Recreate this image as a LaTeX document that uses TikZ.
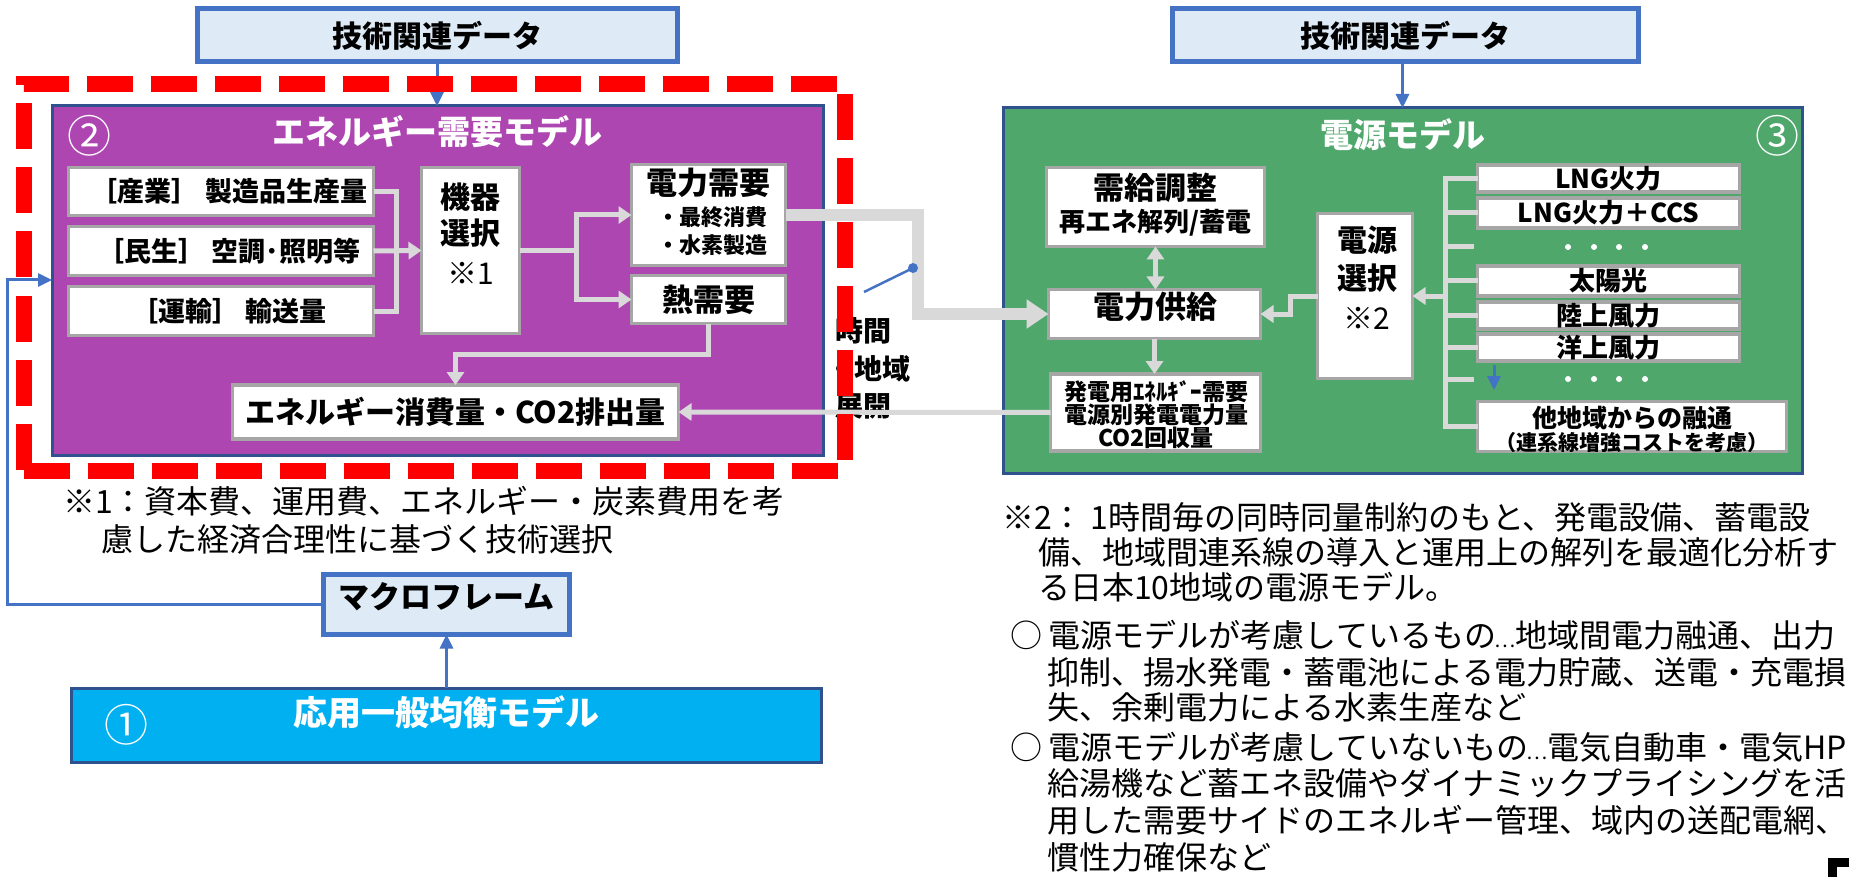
\documentclass[tikz,border=0pt]{standalone}
\usepackage{fontspec}
\setmainfont{Noto Sans CJK JP}
\usetikzlibrary{arrows.meta}
\definecolor{purp}{RGB}{174,70,178}
\definecolor{grn}{RGB}{79,167,108}
\definecolor{cyn}{RGB}{0,176,240}
\definecolor{lblue}{RGB}{222,235,247}
\definecolor{mblue}{RGB}{68,114,196}
\definecolor{dblue}{RGB}{47,82,143}
\definecolor{bgray}{RGB}{166,166,166}
\definecolor{cgray}{RGB}{217,217,217}
\newcommand{\fsz}[1]{\fontsize{#1}{#1}\selectfont}
\newcommand{\myell}{\makebox[19pt]{\fsz{20}…}}
\begin{document}
\begin{tikzpicture}[x=1pt,y=-1pt,
  wbox/.style={draw=bgray, line width=3.5pt, fill=white, inner sep=0pt, outer sep=0pt},
  tbox/.style={draw=mblue, line width=5pt, fill=lblue, inner sep=0pt, outer sep=0pt},
  bigbox/.style={draw=dblue, line width=3pt, inner sep=0pt, outer sep=0pt},
  txt/.style={inner sep=0pt, outer sep=0pt},
  bt/.style={txt, font=\fsz{#1}\bfseries},
  gline/.style={draw=cgray, line width=5pt},
  garrow/.style={gline, -{Triangle[length=13pt,width=17pt]}},
  barrow/.style={draw=mblue, line width=3pt, -{Triangle[length=14pt,width=13pt]}},
  note/.style={txt, anchor=west, font=\fsz{32}},
  circnum/.style={txt, text=white, font=\fsz{44}},
]
\useasboundingbox (0,0) rectangle (1849,877);

% big model boxes
\node[bigbox, fill=purp, minimum width=771pt, minimum height=349pt] (edm) at (437.5,280.5) {};
\node[bt=33, text=white] (edmt) at (437.5,132) {エネルギー需要モデル};
\node[circnum] (n2) at (89,136) {②};

\node[bigbox, fill=grn, minimum width=799pt, minimum height=365pt] (psm) at (1402.5,290.5) {};
\node[bt=33, text=white] (psmt) at (1403,135) {電源モデル};
\node[circnum] (n3) at (1777,136) {③};

% technology data boxes
\node[tbox, minimum width=480pt, minimum height=53pt, font=\fsz{30}\bfseries] (tech1) at (437,35.5) {技術関連データ};
\node[tbox, minimum width=466pt, minimum height=53pt, font=\fsz{30}\bfseries] (tech2) at (1405,35.5) {技術関連データ};

% energy demand model contents
\node[wbox, minimum width=305pt, minimum height=48pt, font=\fsz{27}\bfseries] (ind) at (221,191.5) {\hspace*{16pt}［産業］ 製造品生産量};
\node[wbox, minimum width=305pt, minimum height=49pt, font=\fsz{27}\bfseries] (civ) at (221,251) {\hspace*{16pt}［民生］ 空調･照明等};
\node[wbox, minimum width=305pt, minimum height=49pt, font=\fsz{27}\bfseries] (tra) at (221,311) {\hspace*{16pt}［運輸］ 輸送量};

\node[wbox, minimum width=98pt, minimum height=166pt] (kiki) at (470.5,250.5) {};
\node[bt=30] (kk1) at (470.5,197) {機器};
\node[bt=30] (kk2) at (470.5,233) {選択};
\node[txt, font=\fsz{30}] (kk3) at (470.5,273) {※1};

\node[wbox, minimum width=154pt, minimum height=101pt] (dem) at (708.5,215) {};
\node[bt=31] (dem1) at (708.5,183) {電力需要};
\node[bt=22] (dem2) at (712,217) {・最終消費};
\node[bt=22] (dem3) at (712,245) {・水素製造};

\node[wbox, minimum width=154pt, minimum height=48pt, font=\fsz{31}\bfseries] (heat) at (708.5,299.5) {熱需要};

\node[wbox, minimum width=446pt, minimum height=54pt, font=\fsz{30}\bfseries] (enout) at (455.5,412) {エネルギー消費量・CO2排出量};

% power source model contents
\node[wbox, minimum width=218pt, minimum height=79pt] (adj) at (1155.5,207) {};
\node[bt=31] (adj1) at (1155.5,188) {需給調整};
\node[bt=26] (adj2) at (1155.5,223) {再エネ解列/蓄電};

\node[wbox, minimum width=212pt, minimum height=49pt] (supply) at (1154.5,314) {};
\node[bt=31] (sup1) at (1155,307) {電力供給};

\node[wbox, minimum width=210pt, minimum height=77pt] (genout) at (1155.5,412.5) {};
\node[bt=23] (go1) at (1156,392) {発電用ｴﾈﾙｷﾞｰ需要};
\node[bt=23] (go2) at (1156,415) {電源別発電電力量};
\node[bt=23] (go3) at (1156,438) {CO2回収量};

\node[wbox, minimum width=95pt, minimum height=165pt] (sel) at (1365,296) {};
\node[bt=30] (sel1) at (1367,240) {電源};
\node[bt=30] (sel2) at (1367,278) {選択};
\node[txt, font=\fsz{30}] (sel3) at (1367,318) {※2};

\node[wbox, minimum width=262pt, minimum height=27pt, font=\fsz{26}\bfseries] (lng) at (1608.5,178.5) {LNG火力};
\node[wbox, minimum width=262pt, minimum height=30pt, font=\fsz{26}\bfseries] (ccs) at (1608.5,213) {LNG火力＋CCS};
\node[wbox, minimum width=262pt, minimum height=30pt, font=\fsz{26}\bfseries] (sun) at (1608.5,281) {太陽光};
\node[wbox, minimum width=262pt, minimum height=27pt, font=\fsz{26}\bfseries] (onw) at (1608.5,315.5) {陸上風力};
\node[wbox, minimum width=262pt, minimum height=27pt, font=\fsz{26}\bfseries] (ofw) at (1608.5,347.5) {洋上風力};
\node[wbox, minimum width=309pt, minimum height=50pt] (inter) at (1632,426.5) {};
\node[bt=25] (int1) at (1632,418) {他地域からの融通};
\node[bt=21] (int2) at (1632,443) {（連系線増強コストを考慮）};

\foreach \x in {1568,1594,1619,1645} {
  \fill[white] (\x,247) circle (3pt);
  \fill[white] (\x,379) circle (3pt);
}

% macro frame and CGE
\node[tbox, minimum width=246pt, minimum height=60pt] (macro) at (446.5,604.5) {};
\node[bt=31] (macrot) at (446.5,597) {マクロフレーム};
\node[bigbox, fill=cyn, minimum width=750pt, minimum height=74pt] (cge) at (446.5,725) {};
\node[bt=34, text=white] (cget) at (446,712) {応用一般均衡モデル};
\node[circnum] (n1) at (126,725) {①};

% time / region text
\node[bt=28] (tm1) at (863,331) {時間};
\node[bt=28] (tm2) at (868,369) {・地域};
\node[bt=28] (tm3) at (863,406) {展開};

% gray connectors (left)
\coordinate (j1) at (396,251);
\draw[gline] (ind.east) -| (j1) |- (tra.east);
\draw[garrow] (civ.east) -- (kiki.west);
\coordinate (j2) at (576,250.5);
\draw[garrow] (kiki.east) -- (j2) |- (dem.west);
\draw[garrow] (j2) |- (heat.west);
\coordinate (j3) at (708.5,354);
\draw[garrow] (heat.south) -- (j3) -| (enout.north);

% thick link demand -> supply
\coordinate (j4) at (918,215);
\draw[draw=cgray, line width=12pt, -{Triangle[length=22pt,width=28pt]}] (dem.east) -- (j4) |- (supply.west);

% gray connectors (right)
\draw[garrow] (genout.west) -- (enout.east);
\draw[gline, {Triangle[length=13pt,width=17pt]}-{Triangle[length=13pt,width=17pt]}] (adj.south) -- (adj.south |- supply.north);
\draw[garrow] (supply.south) -- (supply.south |- genout.north);
\coordinate (j5) at (1290,296);
\draw[garrow] (sel.west) -- (j5) |- (supply.east);

\coordinate (bus) at (1445,296);
\coordinate (dr1) at (1474,247);
\coordinate (dr2) at (1474,379);
\draw[gline] (lng.west) -- (bus |- lng.west) -- (bus |- inter.west) -- (inter.west);
\draw[gline] (bus |- ccs.west) -- (ccs.west);
\draw[gline] (bus |- dr1) -- (dr1);
\draw[gline] (bus |- sun.west) -- (sun.west);
\draw[gline] (bus |- onw.west) -- (onw.west);
\draw[gline] (bus |- ofw.west) -- (ofw.west);
\draw[gline] (bus |- dr2) -- (dr2);
\draw[garrow] (bus) -- (sel.east);

% blue connectors
\draw[barrow] (tech1.south) -- (tech1.south |- edm.north);
\draw[barrow] (psm.north |- tech2.south) -- (psm.north);
\draw[barrow] (cge.north) -- (macro.south);
\coordinate (ba1) at (1494,365);
\coordinate (ba2) at (1494,390);
\draw[barrow] (ba1) -- (ba2);
\coordinate (p1) at (864,292);
\coordinate (p2) at (913,268);
\draw[draw=mblue, line width=2.5pt] (p1) -- (p2);
\fill[mblue] (p2) circle (5pt);

% red dashed frame
\node[draw=red, line width=16pt, dash pattern=on 46pt off 18pt, inner sep=0pt, minimum width=821.5pt, minimum height=386pt] (focus) at (434.25,277.5) {};

% feedback loop
\coordinate (lp) at (7,280);
\draw[barrow] (macro.west) -| (lp) -- (edm.west |- lp);

% notes
\node[note] (nA1) at (63,501) {※1：資本費、運用費、エネルギー・炭素費用を考};
\node[note] (nA2) at (101,539) {慮した経済合理性に基づく技術選択};

\node[note] (nB1) at (1002,517) {※2： 1時間毎の同時同量制約のもと、発電設備、蓄電設};
\node[note] (nB2) at (1038,552) {備、地域間連系線の導入と運用上の解列を最適化分析す};
\node[note] (nB3) at (1038,587) {る日本10地域の電源モデル。};
\node[note] (nB4) at (1010,635) {○\hspace{7pt}電源モデルが考慮しているもの\myell 地域間電力融通、出力};
\node[note] (nB5) at (1047,672) {抑制、揚水発電・蓄電池による電力貯蔵、送電・充電損};
\node[note] (nB6) at (1047,707) {失、余剰電力による水素生産など};
\node[note] (nB7) at (1010,747) {○\hspace{7pt}電源モデルが考慮していないもの\myell 電気自動車・電気HP};
\node[note] (nB8) at (1047,783) {給湯機など蓄エネ設備やダイナミックプライシングを活};
\node[note] (nB9) at (1047,820) {用した需要サイドのエネルギー管理、域内の送配電網、};
\node[note] (nB10) at (1047,857) {慣性力確保など};

% corner mark
\fill[black] (1828,858) rectangle (1849,867);
\fill[black] (1828,858) rectangle (1837,877);
\end{tikzpicture}
\end{document}
